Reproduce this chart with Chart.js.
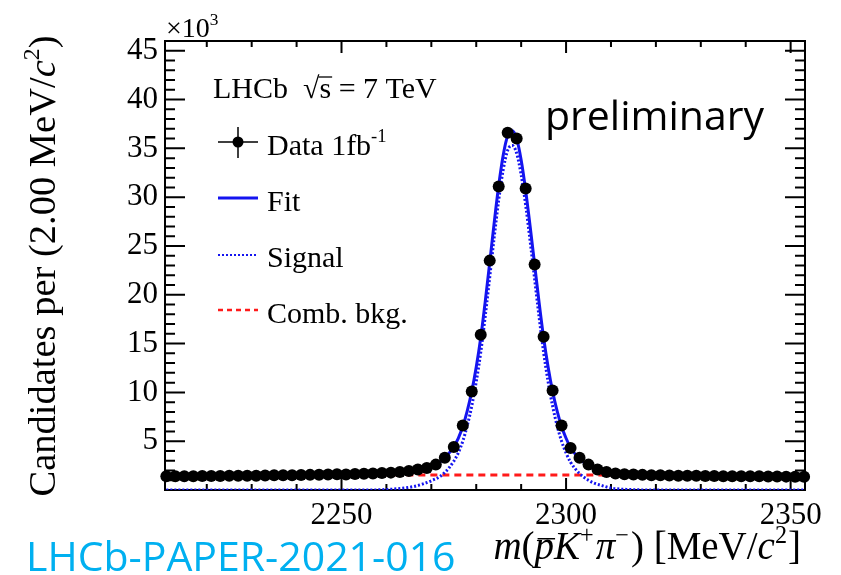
<!DOCTYPE html>
<html>
<head>
<meta charset="utf-8">
<script src="https://cdn.jsdelivr.net/npm/chart.js@4"></script>
<style>
  html, body { margin: 0; padding: 0; background: #fff; }
</style>
</head>
<body>
<canvas id="massChart" width="841" height="575"></canvas>
<script>
// bin centres, MeV/c^2 (2 MeV bins)
const massBins = [
  2211, 2213, 2215, 2217, 2219, 2221, 2223, 2225, 2227, 2229,
  2231, 2233, 2235, 2237, 2239, 2241, 2243, 2245, 2247, 2249,
  2251, 2253, 2255, 2257, 2259, 2261, 2263, 2265, 2267, 2269,
  2271, 2273, 2275, 2277, 2279, 2281, 2283, 2285, 2287, 2289,
  2291, 2293, 2295, 2297, 2299, 2301, 2303, 2305, 2307, 2309,
  2311, 2313, 2315, 2317, 2319, 2321, 2323, 2325, 2327, 2329,
  2331, 2333, 2335, 2337, 2339, 2341, 2343, 2345, 2347, 2349,
  2351, 2353
];
// candidates per bin, x10^3
const dataCounts = [
  1.42, 1.40, 1.41, 1.42, 1.43, 1.43, 1.44, 1.45, 1.45, 1.47,
  1.47, 1.48, 1.50, 1.51, 1.52, 1.53, 1.55, 1.56, 1.58, 1.62,
  1.60, 1.63, 1.66, 1.70, 1.73, 1.78, 1.85, 1.95, 2.10, 2.25,
  2.60, 3.30, 4.40, 6.60, 10.1, 15.9, 23.5, 31.1, 36.6, 36.0,
  30.9, 23.1, 15.7, 10.2, 6.60, 4.30, 3.30, 2.60, 2.10, 1.85,
  1.70, 1.62, 1.58, 1.55, 1.52, 1.50, 1.48, 1.47, 1.46, 1.45,
  1.44, 1.43, 1.42, 1.42, 1.41, 1.40, 1.40, 1.39, 1.38, 1.37,
  1.36, 1.35
];

// total fit curve
const fitMass = [
  2211, 2230, 2245, 2255, 2260, 2264, 2266, 2268, 2270, 2272,
  2273, 2274, 2275, 2276, 2277, 2278, 2279, 2280, 2281, 2282,
  2283, 2284, 2285, 2286, 2287, 2288, 2289, 2290, 2291, 2292,
  2293, 2294, 2295, 2296, 2297, 2298, 2299, 2300, 2301, 2302,
  2303, 2304, 2305, 2306, 2308, 2310, 2313, 2320, 2335, 2353
];
const fitValues = [
  1.45, 1.48, 1.55, 1.65, 1.75, 1.90, 2.00, 2.20, 2.45, 2.90,
  3.30, 3.80, 4.45, 5.30, 6.50, 8.10, 10.1, 12.6, 15.6, 19.3,
  23.3, 27.4, 31.2, 34.3, 36.3, 36.8, 36.0, 33.8, 30.7, 27.0,
  23.1, 19.2, 15.6, 12.6, 10.1, 8.10, 6.50, 5.30, 4.35, 3.70,
  3.20, 2.80, 2.50, 2.25, 1.95, 1.78, 1.65, 1.55, 1.47, 1.42
];

// signal component
const sigMass = [
  2211, 2255, 2260, 2264, 2266, 2268, 2270, 2272, 2273, 2274,
  2275, 2276, 2277, 2278, 2279, 2280, 2281, 2282, 2283, 2284,
  2285, 2286, 2287, 2288, 2289, 2290, 2291, 2292, 2293, 2294,
  2295, 2296, 2297, 2298, 2299, 2300, 2301, 2302, 2303, 2304,
  2305, 2306, 2308, 2310, 2314, 2320, 2353
];
const sigValues = [
  0, 0, 0.05, 0.20, 0.35, 0.60, 0.95, 1.40, 1.80, 2.30,
  2.95, 3.80, 5.00, 6.60, 8.60, 11.1, 14.1, 17.8, 21.8, 25.9,
  29.7, 32.8, 34.8, 35.3, 34.5, 32.3, 29.2, 25.5, 21.6, 17.7,
  14.1, 11.1, 8.60, 6.60, 5.00, 3.80, 2.85, 2.20, 1.70, 1.30,
  1.00, 0.75, 0.45, 0.20, 0.05, 0, 0
];

// combinatorial background
const bkgMass = [2211, 2353];
const bkgValues = [1.58, 1.50];

const yTicks = [5, 10, 15, 20, 25, 30, 35, 40, 45];
const xTicks = [2250, 2300, 2350];

const SERIF = '"Liberation Serif", "DejaVu Serif", serif';
const BLUE = '#1414f0';
const RED = '#ff1a1a';

function pairs(xs, ys) {
  return xs.map((x, i) => ({ x: x, y: ys[i] }));
}

// draw a run of text pieces (normal / italic / superscript)
function drawRich(ctx, parts, x, y, size) {
  let cx = x;
  parts.forEach(p => {
    const s = p.sup ? size * 0.62 : size;
    ctx.font = (p.it ? 'italic ' : '') + s + 'px ' + SERIF;
    const dy = p.sup ? -size * 0.42 : 0;
    cx += p.pre || 0;
    ctx.fillText(p.t, cx, y + dy);
    const w = ctx.measureText(p.t).width;
    if (p.bar) {
      ctx.save();
      ctx.lineWidth = 1.5;
      ctx.beginPath();
      ctx.moveTo(cx + 3, y - size * 0.52);
      ctx.lineTo(cx + w + 1, y - size * 0.52);
      ctx.stroke();
      ctx.restore();
    }
    cx += w + (p.post || 0);
  });
  return cx - x;
}

function richWidth(ctx, parts, size) {
  let w = 0;
  parts.forEach(p => {
    const s = p.sup ? size * 0.62 : size;
    ctx.font = (p.it ? 'italic ' : '') + s + 'px ' + SERIF;
    w += ctx.measureText(p.t).width + (p.pre || 0) + (p.post || 0);
  });
  return w;
}

// ROOT style frame with inward ticks on all four sides
const framePlugin = {
  id: 'frame',
  beforeDatasetsDraw(chart) {
    const ctx = chart.ctx;
    const a = chart.chartArea;
    const xs = chart.scales.x;
    const ys = chart.scales.y;
    ctx.save();
    ctx.strokeStyle = '#000';
    ctx.lineWidth = 2;
    ctx.strokeRect(a.left, a.top, a.right - a.left, a.bottom - a.top);
    ctx.beginPath();
    for (let v = 2220; v <= 2350; v += 10) {
      const px = xs.getPixelForValue(v);
      const len = v % 50 === 0 ? 12 : 6;
      ctx.moveTo(px, a.bottom); ctx.lineTo(px, a.bottom - len);
      ctx.moveTo(px, a.top); ctx.lineTo(px, a.top + len);
    }
    for (let v = 1; v <= 45; v += 1) {
      const py = ys.getPixelForValue(v);
      const len = v % 5 === 0 ? 20 : 10;
      ctx.moveTo(a.left, py); ctx.lineTo(a.left + len, py);
      ctx.moveTo(a.right, py); ctx.lineTo(a.right - len, py);
    }
    ctx.stroke();
    ctx.restore();
  },
  afterDraw(chart) {
    const ctx = chart.ctx;
    ctx.save();
    ctx.fillStyle = '#000';
    ctx.strokeStyle = '#000';
    ctx.textBaseline = 'alphabetic';
    ctx.textAlign = 'left';

    // cut-off title fragment at the top edge
    ctx.font = '40px ' + SERIF;
    ctx.fillText('[1]', 586, -7);

    // x10^3 multiplier
    drawRich(ctx, [{ t: '\u00d710' }, { t: '3', sup: true }], 166, 37, 28);

    // y axis title
    const yParts = [
      { t: 'Candidates per (2.00 MeV/' }, { t: 'c', it: true }, { t: '2', sup: true }, { t: ')' }
    ];
    const ySize = 38.5;
    const yw = richWidth(ctx, yParts, ySize);
    ctx.save();
    ctx.translate(55, 266 + yw / 2);
    ctx.rotate(-Math.PI / 2);
    drawRich(ctx, yParts, 0, 0, ySize);
    ctx.restore();

    // x axis title
    const xParts = [
      { t: 'm', it: true }, { t: '(' }, { t: 'p', it: true, bar: true }, { t: 'K', it: true },
      { t: '+', sup: true, post: 2 }, { t: '\u03c0', it: true }, { t: '\u2212', sup: true, post: 2 },
      { t: ') [MeV/' }, { t: 'c', it: true }, { t: '2', sup: true, post: 1 }, { t: ']' }
    ];
    const xSize = 39;
    const xw = richWidth(ctx, xParts, xSize);
    drawRich(ctx, xParts, 801 - xw, 559, xSize);

    // legend
    const lx = 218, rx = 258, tx = 267;
    ctx.font = '30px ' + SERIF;
    ctx.fillText('LHCb', 213, 98);
    const sqx = 213 + ctx.measureText('LHCb  ').width;
    ctx.fillText('\u221as = 7 TeV', sqx, 98);
    const rootW = ctx.measureText('\u221a').width;
    const sW = ctx.measureText('s').width;
    ctx.lineWidth = 1.3;
    ctx.beginPath();
    ctx.moveTo(sqx + rootW - 1, 77);
    ctx.lineTo(sqx + rootW + sW + 1, 77);
    ctx.stroke();

    // data entry
    ctx.lineWidth = 1.5;
    ctx.beginPath();
    ctx.moveTo(lx, 142); ctx.lineTo(rx, 142);
    ctx.moveTo(238, 127); ctx.lineTo(238, 158);
    ctx.stroke();
    ctx.beginPath();
    ctx.arc(238, 142, 5.5, 0, Math.PI * 2);
    ctx.fill();
    drawRich(ctx, [{ t: 'Data 1fb' }, { t: '-1', sup: true }], tx, 155, 30);

    // fit entry
    ctx.strokeStyle = BLUE;
    ctx.lineWidth = 3;
    ctx.beginPath();
    ctx.moveTo(lx, 198); ctx.lineTo(rx, 198);
    ctx.stroke();
    ctx.font = '30px ' + SERIF;
    ctx.fillText('Fit', tx, 211);

    // signal entry
    ctx.setLineDash([2, 2]);
    ctx.lineWidth = 2;
    ctx.beginPath();
    ctx.moveTo(lx, 255); ctx.lineTo(rx, 255);
    ctx.stroke();
    ctx.fillText('Signal', tx, 267);

    // background entry
    ctx.strokeStyle = RED;
    ctx.setLineDash([5, 4]);
    ctx.lineWidth = 2.5;
    ctx.beginPath();
    ctx.moveTo(lx, 310); ctx.lineTo(rx, 310);
    ctx.stroke();
    ctx.setLineDash([]);
    ctx.fillText('Comb. bkg.', tx, 323);

    // annotations
    ctx.font = '41px "Open Sans", "Noto Sans", sans-serif';
    ctx.fillText('preliminary', 545, 130);
    ctx.fillStyle = '#00b0f0';
    ctx.font = '41px "Open Sans", "Noto Sans", sans-serif';
    ctx.fillText('LHCb-PAPER-2021-016', 26, 571);
    ctx.restore();
  }
};

new Chart(document.getElementById('massChart'), {
  type: 'line',
  data: {
    datasets: [
      {
        label: 'Data 1fb-1',
        data: pairs(massBins, dataCounts),
        showLine: false,
        pointRadius: 6,
        pointHoverRadius: 6,
        pointBorderWidth: 0,
        backgroundColor: '#000',
        borderColor: '#000',
        clip: false
      },
      {
        label: 'Fit',
        data: pairs(fitMass, fitValues),
        borderColor: BLUE,
        borderWidth: 3,
        pointRadius: 0,
        cubicInterpolationMode: 'monotone'
      },
      {
        label: 'Signal',
        data: pairs(sigMass, sigValues),
        borderColor: BLUE,
        borderWidth: 3,
        borderDash: [2, 2],
        pointRadius: 0,
        cubicInterpolationMode: 'monotone'
      },
      {
        label: 'Comb. bkg.',
        data: pairs(bkgMass, bkgValues),
        borderColor: RED,
        borderWidth: 3,
        borderDash: [7, 5],
        pointRadius: 0
      }
    ]
  },
  options: {
    responsive: false,
    animation: false,
    devicePixelRatio: 1,
    layout: { padding: { top: 41, right: 36, left: 0, bottom: 0 } },
    plugins: {
      legend: { display: false },
      tooltip: { enabled: false }
    },
    scales: {
      x: {
        type: 'linear',
        min: 2210.7,
        max: 2353.2,
        afterFit: s => { s.height = 85; },
        afterBuildTicks: s => { s.ticks = xTicks.map(v => ({ value: v })); },
        grid: { display: false, drawTicks: false },
        border: { display: false },
        ticks: {
          color: '#000',
          padding: 7,
          maxRotation: 0,
          callback: v => String(v),
          font: { family: SERIF, size: 31 }
        }
      },
      y: {
        min: 0,
        max: 46,
        afterFit: s => { s.width = 165; },
        afterBuildTicks: s => { s.ticks = yTicks.map(v => ({ value: v })); },
        grid: { display: false, drawTicks: false },
        border: { display: false },
        ticks: {
          color: '#000',
          padding: 7,
          callback: v => String(v),
          font: { family: SERIF, size: 31 }
        }
      }
    }
  },
  plugins: [framePlugin]
});
</script>
</body>
</html>
